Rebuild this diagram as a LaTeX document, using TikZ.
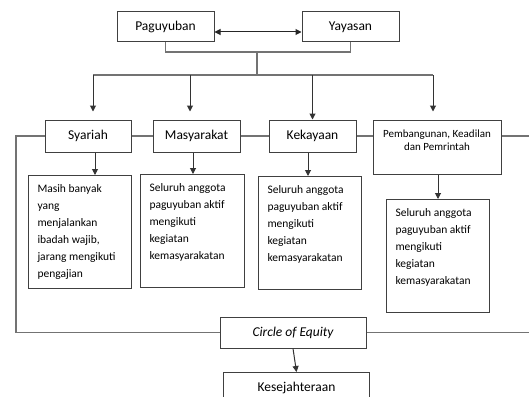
\documentclass[tikz,border=0pt]{standalone}
\usepackage{fontspec}
\setmainfont{Carlito}
\usetikzlibrary{arrows.meta, positioning, calc}

\tikzset{
    kotak/.style={draw=black!75, line width=1pt, fill=white, inner sep=0pt},
    utama/.style={kotak, font=\fontsize{13.5}{16}\selectfont},
    uraian/.style={kotak, anchor=north west, inner xsep=9pt, inner ysep=9pt, font=\fontsize{11.5}{17}\selectfont},
    garis/.style={draw=black!55, line width=1.2pt},
    panah/.style={draw=black!80, line width=1pt, -{Triangle[length=6pt,width=6pt]}}
}

\begin{document}
\begin{tikzpicture}[x=1pt, y=-1pt]
    \useasboundingbox (0,0) rectangle (529,396);
    \clip (0,0) rectangle (529,396);

    % baris atas
    \node[utama, minimum width=97pt, minimum height=30pt] (pag) at (165.5,27) {Paguyuban};
    \node[utama, minimum width=97pt, minimum height=30pt] (yay) at (350.5,27) {Yayasan};
    \draw[draw=black!85, line width=1pt, {Triangle[length=6pt,width=6pt]}-{Triangle[length=6pt,width=6pt]}]
        ([yshift=-5pt]pag.east) -- ([yshift=-5pt]yay.west);

    % empat aspek
    \node[utama, minimum width=86pt, minimum height=32pt] (syr) at (88,136) {Syariah};
    \node[utama, minimum width=87pt, minimum height=32pt] (mas) at (196.5,136) {Masyarakat};
    \node[utama, minimum width=87pt, minimum height=32pt] (kek) at (312.5,136) {Kekayaan};
    \node[kotak, minimum width=128pt, minimum height=54pt, align=center,
          font=\fontsize{11}{13.7}\selectfont] (pem) at (437,147)
          {Pembangunan, Keadilan\\dan Pemrintah\\ \mbox{}};

    % uraian
    \node[uraian] (d1) at (28,175) {\parbox[c][95pt][t]{85pt}{\raggedright
        Masih banyak\\yang\\menjalankan\\ibadah wajib,\\jarang mengikuti\\pengajian}};
    \node[uraian] (d2) at (140,174) {\parbox[c][95pt][t]{86pt}{\raggedright
        Seluruh anggota\\paguyuban aktif\\mengikuti\\kegiatan\\kemasyarakatan}};
    \node[uraian] (d3) at (258,176) {\parbox[c][95pt][t]{85pt}{\raggedright
        Seluruh anggota\\paguyuban aktif\\mengikuti\\kegiatan\\kemasyarakatan}};
    \node[uraian] (d4) at (386,199) {\parbox[c][95pt][t]{85pt}{\raggedright
        Seluruh anggota\\paguyuban aktif\\mengikuti\\kegiatan\\kemasyarakatan}};

    % hasil
    \node[utama, minimum width=146pt, minimum height=31pt] (circ) at (293,332.5) {\itshape Circle of Equity};
    \node[utama, anchor=north west, minimum width=146pt, minimum height=30pt] (kes) at (223,372) {Kesejahteraan};

    % percabangan
    \coordinate (br) at (257,52);
    \coordinate (hub) at (257,75);
    \draw[garis] (pag.south) |- (br) -| (yay.south);
    \draw[garis] (br) -- (hub);
    \draw[garis] ([xshift=5pt]syr.north |- hub) -- ([xshift=-4pt]pem.north |- hub);
    \draw[panah, shorten >=8pt] ([xshift=5pt]syr.north |- hub) -- ([xshift=5pt]syr.north);
    \draw[panah, shorten >=8pt] ([xshift=-6.5pt]mas.north |- hub) -- ([xshift=-6.5pt]mas.north);
    \draw[panah] (kek.north |- hub) -- (kek.north);
    \draw[panah, shorten >=8pt] ([xshift=-4pt]pem.north |- hub) -- ([xshift=-4pt]pem.north);

    % garis mendatar antar kotak
    \coordinate (lft) at (16,332.5);
    \coordinate (rgt1) at (540,136);
    \coordinate (rgt2) at (540,332.5);
    \draw[garis] (syr.west) -| (lft) -- (circ.west);
    \draw[garis] (syr.east) -- (mas.west);
    \draw[garis] (mas.east) -- (kek.west);
    \draw[garis] (kek.east) -- (pem.west |- kek.east);
    \draw[garis] (pem.east |- kek.east) -- (rgt1);
    \draw[garis] (circ.east) -- (rgt2);

    % panah ke uraian
    \draw[panah] ([xshift=7pt]syr.south) -- ([xshift=7pt]syr.south |- d1.north);
    \draw[panah] ([xshift=-3.5pt]mas.south) -- ([xshift=-3.5pt]mas.south |- d2.north);
    \draw[panah] ([xshift=-4.5pt]kek.south) -- ([xshift=-4.5pt]kek.south |- d3.north);
    \draw[panah] ([xshift=1pt]pem.south) -- ([xshift=1pt]pem.south |- d4.north);
    \draw[panah] (circ.south) -- (kes.north);
\end{tikzpicture}
\end{document}
